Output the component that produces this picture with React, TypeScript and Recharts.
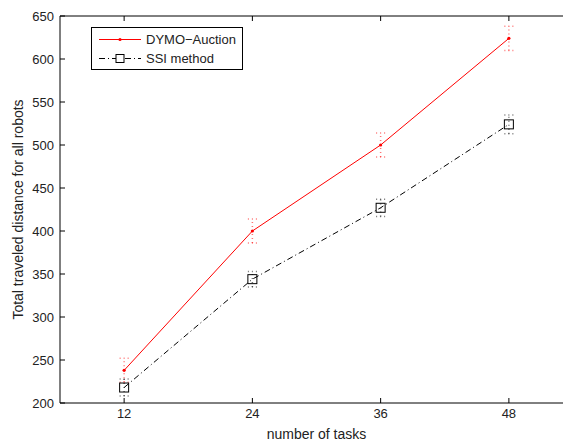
import { ErrorBar, Label, Legend, Line, LineChart, XAxis, YAxis } from "recharts"

const tasks = [12, 24, 36, 48]
const dymoDistance = [238, 400, 500, 624]
const dymoSpread = [14, 14, 14, 14]
const ssiDistance = [218, 344, 427, 524]
const ssiSpread = [10, 9, 10, 11]
const distanceTicks = [200, 250, 300, 350, 400, 450, 500, 550, 600, 650]

const data = tasks.map((t, i) => ({
  tasks: t,
  dymo: dymoDistance[i],
  dymoErr: dymoSpread[i],
  ssi: ssiDistance[i],
  ssiErr: ssiSpread[i],
}))

const FONT = '"Liberation Sans", Arial, Helvetica, sans-serif'
const TEXT = "#222"

// matlab style: ticks point into the box
function BottomTick(props: any) {
  const { x, y, payload } = props
  return (
    <g>
      <line x1={x} x2={x} y1={y} y2={y - 5} stroke="#000" />
      <text x={x} y={y + 15} textAnchor="middle" fontSize={13} fill={TEXT} fontFamily={FONT}>
        {payload.value}
      </text>
    </g>
  )
}

function TopTick(props: any) {
  const { x, y } = props
  return <line x1={x} x2={x} y1={y} y2={y + 5} stroke="#000" />
}

function LeftTick(props: any) {
  const { x, y, payload } = props
  return (
    <g>
      <line x1={x} x2={x + 5} y1={y} y2={y} stroke="#000" />
      <text x={x - 6} y={y + 4.5} textAnchor="end" fontSize={13} fill={TEXT} fontFamily={FONT}>
        {payload.value}
      </text>
    </g>
  )
}

function RightTick(props: any) {
  const { x, y } = props
  return <line x1={x} x2={x - 5} y1={y} y2={y} stroke="#000" />
}

function RedDot(props: any) {
  const { cx, cy } = props
  return <circle cx={cx} cy={cy} r={1.6} fill="#ff0000" />
}

function SquareDot(props: any) {
  const { cx, cy } = props
  return <rect x={cx - 4.5} y={cy - 4.5} width={9} height={9} fill="none" stroke="#000" />
}

function LegendBox() {
  return (
    <svg width={153} height={44} style={{ display: "block" }}>
      <rect x={0.5} y={0.5} width={151} height={42} fill="#fff" stroke="#000" />
      <line x1={8} x2={50} y1={12.5} y2={12.5} stroke="#ff0000" />
      <circle cx={29} cy={12.5} r={1.6} fill="#ff0000" />
      <text x={55} y={17} fontSize={13} fill={TEXT} fontFamily={FONT}>
        DYMO−Auction
      </text>
      <line x1={8} x2={50} y1={31.5} y2={31.5} stroke="#000" strokeDasharray="6 3 1 3" />
      <rect x={25} y={27.5} width={8} height={8} fill="#fff" stroke="#000" />
      <text x={55} y={36} fontSize={13} fill={TEXT} fontFamily={FONT}>
        SSI method
      </text>
    </svg>
  )
}

export default function App() {
  return (
    <div
      style={{
        position: "absolute",
        left: 0,
        top: 0,
        width: 563,
        height: 443,
        overflow: "hidden",
        background: "#fff",
      }}
    >
      <LineChart
        width={600}
        height={443}
        data={data}
        margin={{ top: 15, right: 26, bottom: 39, left: 59 }}
      >
        <XAxis
          dataKey="tasks"
          type="number"
          domain={[6, 54]}
          ticks={tasks}
          height={1}
          tickSize={0}
          tickMargin={0}
          tickLine={false}
          axisLine={{ stroke: "#000" }}
          tick={<BottomTick />}
          interval={0}
        >
          <Label
            value="number of tasks"
            position="bottom"
            offset={25}
            style={{ fontSize: 14, fill: TEXT, fontFamily: FONT }}
          />
        </XAxis>
        <XAxis
          xAxisId="top"
          orientation="top"
          dataKey="tasks"
          type="number"
          domain={[6, 54]}
          ticks={tasks}
          height={1}
          tickSize={0}
          tickMargin={0}
          tickLine={false}
          axisLine={{ stroke: "#000" }}
          tick={<TopTick />}
          interval={0}
        />
        <YAxis
          type="number"
          domain={[200, 650]}
          ticks={distanceTicks}
          width={1}
          tickSize={0}
          tickMargin={0}
          tickLine={false}
          axisLine={{ stroke: "#000" }}
          tick={<LeftTick />}
          interval={0}
        >
          <Label
            value="Total traveled distance for all robots"
            angle={-90}
            position="insideLeft"
            offset={-41}
            style={{ fontSize: 14, fill: TEXT, fontFamily: FONT, textAnchor: "middle" }}
          />
        </YAxis>
        <YAxis
          yAxisId="right"
          orientation="right"
          type="number"
          domain={[200, 650]}
          ticks={distanceTicks}
          width={1}
          tickSize={0}
          tickMargin={0}
          tickLine={false}
          axisLine={{ stroke: "#000" }}
          tick={<RightTick />}
          interval={0}
        />
        <Legend
          layout="vertical"
          align="center"
          verticalAlign="middle"
          wrapperStyle={{ left: 91, top: 27, width: 153, height: 44 }}
          content={() => <LegendBox />}
        />
        <Line
          dataKey="dymo"
          name="DYMO−Auction"
          stroke="#ff0000"
          strokeWidth={1}
          dot={<RedDot />}
          activeDot={false}
          isAnimationActive={false}
        >
          <ErrorBar
            dataKey="dymoErr"
            direction="y"
            width={4.5}
            stroke="#ff0000"
            strokeOpacity={0.55}
            strokeDasharray="1 3"
          />
        </Line>
        <Line
          dataKey="ssi"
          name="SSI method"
          stroke="#000"
          strokeWidth={1}
          strokeDasharray="6 3 1 3"
          dot={<SquareDot />}
          activeDot={false}
          isAnimationActive={false}
        >
          <ErrorBar
            dataKey="ssiErr"
            direction="y"
            width={4.5}
            stroke="#000"
            strokeOpacity={0.55}
            strokeDasharray="1 3"
          />
        </Line>
      </LineChart>
    </div>
  )
}
